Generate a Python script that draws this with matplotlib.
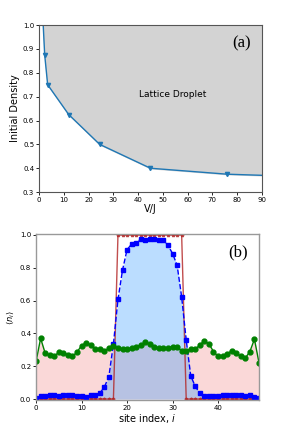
import numpy as np
import matplotlib.pyplot as plt

# panel (a): phase boundary
vj = [1.7, 2.3, 3.5, 12.0, 24.5, 45.0, 76.0, 100.0]
density = [1.0, 0.875, 0.75, 0.625, 0.5, 0.4, 0.375, 0.367]

# panel (b): site occupations
sites = np.arange(50)
n_green = [0.23, 0.37, 0.28, 0.267, 0.26, 0.287, 0.283, 0.27, 0.26, 0.287,
           0.326, 0.344, 0.33, 0.305, 0.307, 0.295, 0.31, 0.324, 0.313, 0.304,
           0.304, 0.31, 0.316, 0.332, 0.345, 0.335, 0.316, 0.312, 0.312, 0.314,
           0.32, 0.316, 0.295, 0.295, 0.304, 0.304, 0.33, 0.356, 0.336, 0.29,
           0.26, 0.26, 0.275, 0.295, 0.28, 0.26, 0.25, 0.29, 0.365, 0.222]
n_blue = [0.005, 0.016, 0.016, 0.026, 0.026, 0.02, 0.026, 0.026, 0.026, 0.02,
          0.016, 0.012, 0.027, 0.027, 0.036, 0.073, 0.137, 0.336, 0.607, 0.786,
          0.911, 0.944, 0.951, 0.976, 0.972, 0.978, 0.975, 0.968, 0.968, 0.937,
          0.887, 0.816, 0.623, 0.36, 0.141, 0.077, 0.036, 0.02, 0.016, 0.016,
          0.02, 0.027, 0.027, 0.027, 0.027, 0.024, 0.02, 0.027, 0.012, 0.008]
n_red = [0.0] * 18 + [1.0] * 15 + [0.0] * 17

fig = plt.figure(figsize=(2.91, 4.25), dpi=100)

# (a)
ax1 = fig.add_axes([0.134, 0.548, 0.766, 0.393])
ax1.fill_between(vj, density, 1.0, color='lightgray')
ax1.plot(vj, density, color='tab:blue', marker='v', markersize=3, linewidth=1,
         markevery=list(range(1, len(vj))))
ax1.set_xlim(0, 90)
ax1.set_ylim(0.3, 1.0)
ax1.set_xticks(range(0, 91, 10))
ax1.tick_params(labelsize=5, length=2, width=0.6, pad=1.5)
ax1.set_xlabel('V/J', fontsize=7, labelpad=1)
ax1.set_ylabel('Initial Density', fontsize=7, labelpad=2)
ax1.text(54, 0.71, 'Lattice Droplet', fontsize=6.5, ha='center', va='center')
ax1.text(0.95, 0.89, '(a)', transform=ax1.transAxes, fontsize=12,
         family='Liberation Serif', ha='right', va='center')
for s in ax1.spines.values():
    s.set_color('#555555')
    s.set_linewidth(0.8)

# (b)
ax2 = fig.add_axes([0.124, 0.059, 0.766, 0.390])
ax2.fill_between(sites, n_green, 0, color='lightcoral', alpha=0.3, linewidth=0)
ax2.fill_between(sites, n_blue, 0, color='dodgerblue', alpha=0.3, linewidth=0)
ax2.plot(sites, n_red, color='firebrick', marker='*', markersize=2.5,
         linewidth=1, alpha=0.8)
ax2.plot(sites, n_blue, color='blue', marker='s', markersize=3.5,
         linestyle='--', linewidth=1)
ax2.plot(sites, n_green, color='green', marker='o', markersize=3.5,
         linewidth=1)
ax2.set_xlim(0, 49)
ax2.set_ylim(-0.005, 1.005)
ax2.set_xticks(range(0, 41, 10))
ax2.set_yticks(np.arange(0, 1.01, 0.2))
ax2.tick_params(labelsize=5, length=2, width=0.6, pad=1.5)
ax2.set_xlabel('site index, $i$', fontsize=7, labelpad=1)
ax2.set_ylabel(r'$\langle n_i \rangle$', fontsize=6, labelpad=3)
ax2.text(0.95, 0.89, '(b)', transform=ax2.transAxes, fontsize=12,
         family='Liberation Serif', ha='right', va='center')
for s in ax2.spines.values():
    s.set_color('#999999')
    s.set_linewidth(1.0)

fig.savefig('out.png', dpi=100)
